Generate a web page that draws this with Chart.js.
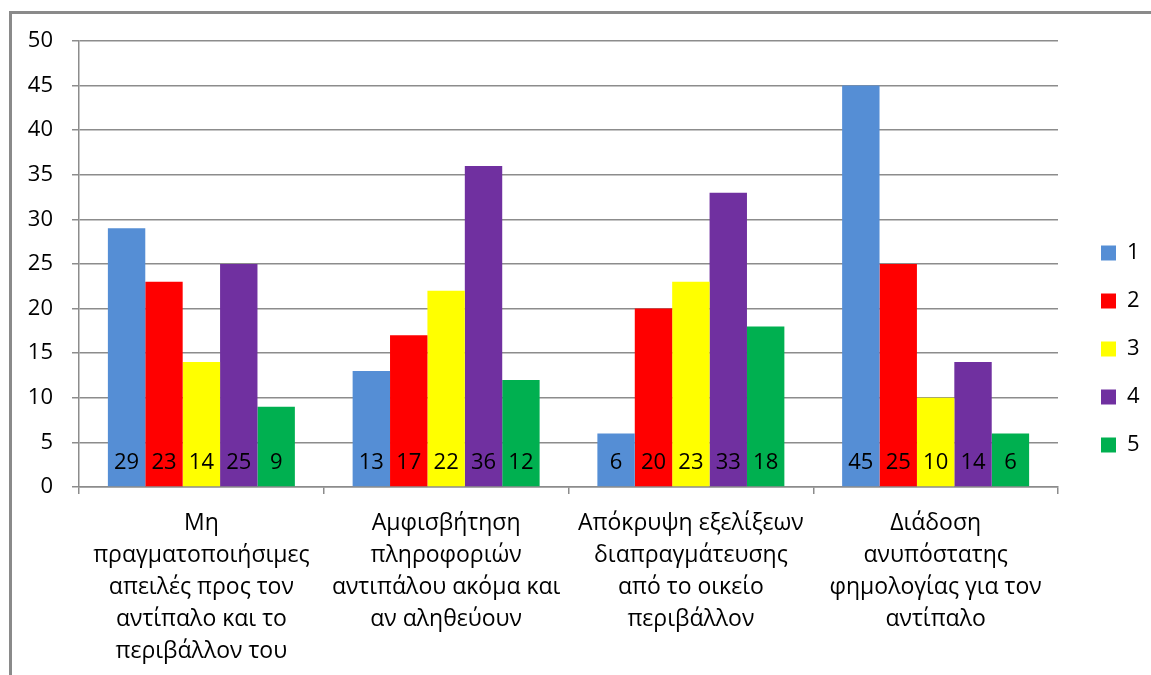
<!DOCTYPE html>
<html>
<head>
<meta charset="utf-8">
<script src="https://cdn.jsdelivr.net/npm/chart.js@4/dist/chart.umd.min.js"></script>
<style>
  html, body { margin: 0; padding: 0; background: #fff; }
  #wrap { position: relative; width: 1151px; height: 675px; overflow: hidden; }
  #frame { position: absolute; left: 9px; top: 11px; width: 1200px; height: 700px;
           border-left: 3px solid #8a8a8a; border-top: 3px solid #8a8a8a; pointer-events: none; }
  canvas { position: absolute; left: 0; top: 0; }
</style>
</head>
<body>
<div id="wrap">
  <canvas id="c" width="1151" height="675"></canvas>
  <div id="frame"></div>
</div>
<script>
// Tactics (categories), one line per array entry
const categories = [
  ['Μη', 'πραγματοποιήσιμες', 'απειλές προς τον', 'αντίπαλο και το', 'περιβάλλον του'],
  ['Αμφισβήτηση', 'πληροφοριών', 'αντιπάλου ακόμα και', 'αν αληθεύουν'],
  ['Απόκρυψη εξελίξεων', 'διαπραγμάτευσης', 'από το οικείο', 'περιβάλλον'],
  ['Διάδοση', 'ανυπόστατης', 'φημολογίας για τον', 'αντίπαλο']
];
const seriesNames = ['1', '2', '3', '4', '5'];
const series1 = [29, 13, 6, 45];
const series2 = [23, 17, 20, 25];
const series3 = [14, 22, 23, 10];
const series4 = [25, 36, 33, 14];
const series5 = [9, 12, 18, 6];
const yTicks = [0, 5, 10, 15, 20, 25, 30, 35, 40, 45, 50];

const seriesValues = [series1, series2, series3, series4, series5];
const seriesColors = ['#558ed5', '#ff0000', '#ffff00', '#7030a0', '#00b050'];

const FONT = '"Open Sans", "Noto Sans", sans-serif';
const GRID = '#8c8c8c';

// Plot box edges (px)
const PLOT_LEFT = 79, PLOT_RIGHT = 1058, PLOT_TOP = 41, PLOT_BOTTOM = 487;
const LEGEND_X = 1101, LEGEND_SHIFT_Y = -9;

// Value labels drawn just above the base of every bar
const baseLabels = {
  id: 'baseLabels',
  afterDatasetsDraw(chart) {
    const ctx = chart.ctx;
    ctx.save();
    ctx.font = '22px ' + FONT;
    ctx.fillStyle = '#000';
    ctx.textAlign = 'center';
    ctx.textBaseline = 'middle';
    chart.data.datasets.forEach((ds, di) => {
      const meta = chart.getDatasetMeta(di);
      meta.data.forEach((bar, i) => {
        ctx.fillText(String(ds.data[i]), bar.x, bar.base - 24);
      });
    });
    ctx.restore();
  }
};

// Leaves a wider gap between the plot and the legend
const legendPlacement = {
  id: 'legendPlacement',
  afterInit(chart) {
    const legend = chart.legend;
    const fit = legend.fit.bind(legend);
    legend.fit = function () {
      fit();
      this.width = chart.width - PLOT_RIGHT;
    };
  },
  afterLayout(chart) {
    const legend = chart.legend;
    const pad = legend.options.labels.padding;
    legend.left = LEGEND_X - pad;
    legend.top += LEGEND_SHIFT_Y;
    legend.bottom += LEGEND_SHIFT_Y;
  }
};

new Chart(document.getElementById('c'), {
  type: 'bar',
  data: {
    labels: categories,
    datasets: seriesNames.map((name, i) => ({
      label: name,
      data: seriesValues[i],
      backgroundColor: seriesColors[i],
      borderWidth: 0,
      categoryPercentage: 0.764,
      barPercentage: 1.0
    }))
  },
  options: {
    responsive: false,
    animation: false,
    devicePixelRatio: 1,
    layout: { padding: { left: 0, right: 0, top: PLOT_TOP, bottom: 0 } },
    plugins: {
      tooltip: { enabled: false },
      legend: {
        position: 'right',
        align: 'center',
        labels: {
          boxWidth: 15,
          boxHeight: 15,
          padding: 26,
          color: '#000',
          font: { family: FONT, size: 22 }
        }
      }
    },
    scales: {
      x: {
        offset: true,
        afterFit(scale) { scale.height = 675 - PLOT_BOTTOM; },
        grid: {
          offset: true,
          drawOnChartArea: false,
          drawTicks: true,
          tickLength: 7,
          color: GRID,
          lineWidth: 1.5
        },
        border: { display: true, color: GRID, width: 1.5 },
        ticks: {
          color: '#000',
          maxRotation: 0,
          minRotation: 0,
          autoSkip: false,
          padding: 13,
          font: { family: FONT, size: 23, lineHeight: '32px' }
        }
      },
      y: {
        min: 0,
        max: 50,
        afterFit(scale) { scale.width = PLOT_LEFT; },
        afterBuildTicks(scale) { scale.ticks = yTicks.map(v => ({ value: v })); },
        grid: { color: GRID, lineWidth: 1.5, tickLength: 7 },
        border: { display: true, color: GRID, width: 1.5 },
        ticks: {
          color: '#000',
          padding: 19,
          font: { family: FONT, size: 22 }
        }
      }
    }
  },
  plugins: [baseLabels, legendPlacement]
});
</script>
</body>
</html>
